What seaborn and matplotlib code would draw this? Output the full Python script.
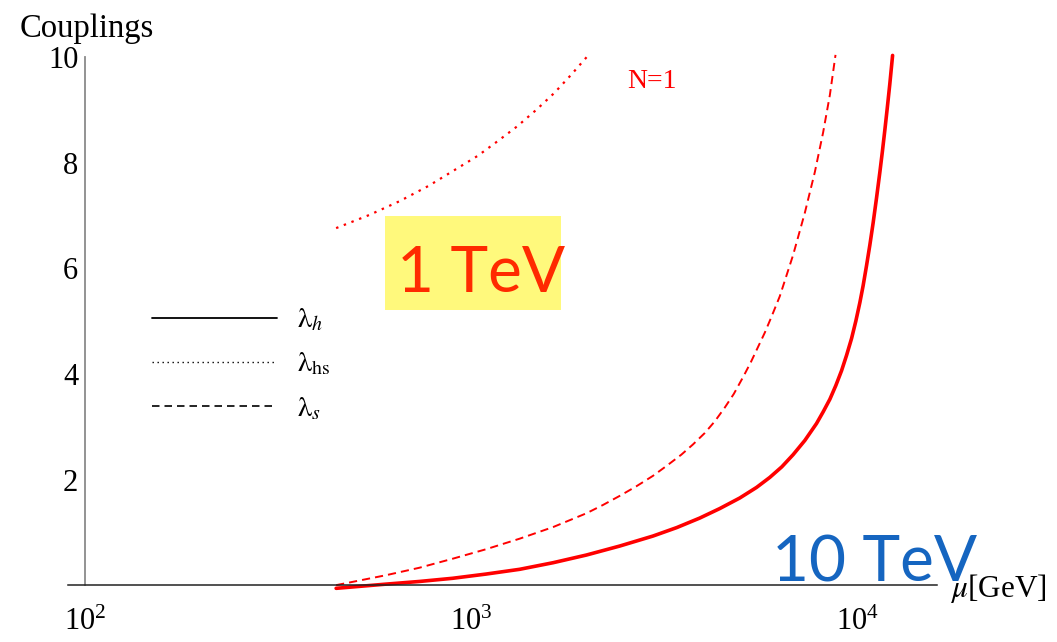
import numpy as np
import matplotlib
matplotlib.use("Agg")
import matplotlib.pyplot as plt
import seaborn as sns
from matplotlib.lines import Line2D
from matplotlib.patches import Rectangle
from matplotlib.ticker import LogLocator, FixedLocator

# running couplings vs scale mu [GeV], N=1
mu_h = [446, 602, 733, 893, 1090, 1332, 1626, 1982, 2417, 2949, 3397, 3896,
        4390, 4946, 5466, 5916, 6355, 6798, 7291, 7816, 8130, 8464, 8770,
        9074, 9348, 9632, 9881, 10121, 10320, 10532, 10742, 10955, 11178,
        11403, 11575, 11748, 11920, 12100, 12302]
lam_h = [-0.06, 0.02, 0.07, 0.13, 0.21, 0.30, 0.425, 0.57, 0.74, 0.93, 1.09, 1.27,
         1.45, 1.65, 1.85, 2.04, 2.24, 2.47, 2.74, 3.06, 3.28, 3.52, 3.78,
         4.06, 4.35, 4.67, 5.00, 5.35, 5.67, 6.05, 6.44, 6.86, 7.33,
         7.82, 8.21, 8.62, 9.04, 9.49, 10.03]

mu_s = [446, 602, 733, 893, 1090, 1332, 1626, 1982, 2191, 2418, 2668, 2949,
        3200, 3491, 3737, 4015, 4261, 4522, 4773, 5046, 5283, 5516, 5742,
        5975, 6280, 6798, 7291, 7738, 8130, 8464, 8754]
lam_s = [0.0, 0.19, 0.33, 0.50, 0.68, 0.88, 1.10, 1.36, 1.52, 1.69, 1.87, 2.07,
         2.26, 2.47, 2.66, 2.88, 3.10, 3.36, 3.62, 3.94, 4.22, 4.51, 4.78,
         5.08, 5.47, 6.25, 7.05, 7.82, 8.57, 9.28, 10.04]

mu_hs = [446, 544, 651, 774, 913, 1038, 1170, 1314, 1471, 1638, 1809, 1998]
lam_hs = [6.76, 7.01, 7.27, 7.56, 7.88, 8.13, 8.41, 8.69, 9.00, 9.32, 9.66, 10.02]

legend_labels = [r"$\mathrm{\lambda}_h$", r"$\mathrm{\lambda}_{\mathrm{hs}}$", r"$\mathrm{\lambda}_s$"]
y_major = [2, 4, 6, 8, 10]
y_minor = [v / 2 for v in range(1, 20) if v % 4 != 0]

sns.set_style("white")
plt.rcParams["font.family"] = ["Liberation Serif", "DejaVu Serif"]
plt.rcParams["mathtext.fontset"] = "stix"
plt.rcParams["text.color"] = "black"
plt.rcParams["xtick.color"] = "black"
plt.rcParams["ytick.color"] = "black"

W, H = 1057, 642
fig = plt.figure(figsize=(W / 100, H / 100), dpi=100)
ax = fig.add_axes([68 / W, 1 - 601 / H, 869 / W, 544 / H])

red = "#ff0000"
sns.lineplot(x=mu_h, y=lam_h, ax=ax, color=red, lw=2.6, clip_on=False)
sns.lineplot(x=mu_s, y=lam_s, ax=ax, color=red, lw=1.4,
             linestyle=(0, (4.2, 2.6)), clip_on=False)
sns.lineplot(x=mu_hs, y=lam_hs, ax=ax, color=red, lw=1.6,
             linestyle=(0, (1.1, 2.6)), clip_on=False)

ax.set_xscale("log")
ax.set_xlim(90.2, 16030)
ax.set_ylim(-0.3, 10.0)
ax.set_xlabel("")
ax.set_ylabel("")

# Mathematica-style crossing axes
for side in ["top", "right"]:
    ax.spines[side].set_visible(False)
ax.spines["left"].set_position(("data", 100))
ax.spines["left"].set_bounds(0, 10)
ax.spines["left"].set_color("#8a8a8a")
ax.spines["left"].set_linewidth(1.3)
ax.spines["bottom"].set_position(("data", 0))
ax.spines["bottom"].set_color("#222222")
ax.spines["bottom"].set_linewidth(1.1)

ax.xaxis.set_major_locator(LogLocator(base=10, numticks=10))
ax.xaxis.set_minor_locator(LogLocator(base=10, subs=np.arange(2, 10), numticks=30))
ax.yaxis.set_major_locator(FixedLocator(y_major))
ax.yaxis.set_minor_locator(FixedLocator(y_minor))

ax.tick_params(axis="x", which="major", direction="out", length=12, width=2.6,
               color="black", labelsize=22, pad=4)
ax.tick_params(axis="x", which="minor", direction="out", length=7, width=1,
               color="#777777")
ax.tick_params(axis="y", which="major", direction="in", length=6, width=1,
               color="black", labelsize=22, pad=5)
ax.tick_params(axis="y", which="minor", direction="in", length=4, width=0.8,
               color="#444444")

handles = [
    Line2D([], [], color="black", lw=1.3),
    Line2D([], [], color="black", lw=1.0, linestyle=(0, (1, 2.6))),
    Line2D([], [], color="black", lw=1.2, linestyle=(0, (4.5, 3))),
]
ax.legend(handles, legend_labels, loc="upper left",
          bbox_to_anchor=(152 / W, 1 - 307 / H), bbox_transform=fig.transFigure,
          frameon=False, fontsize=20.5, handlelength=4.4, handletextpad=0.7,
          labelspacing=0.62, borderpad=0, borderaxespad=0)

fig.text(20 / W, 1 - 37 / H, "Couplings", fontsize=23.5, ha="left", va="baseline")
fig.text(950 / W, 1 - 597 / H, r"$\mu$[GeV]", fontsize=22.5, ha="left", va="baseline")
fig.text(627 / W, 1 - 88 / H, "N=1", fontsize=20, color=red, ha="left", va="baseline")

fig.patches.append(Rectangle((385 / W, 1 - 310 / H), 176 / W, 94 / H,
                             transform=fig.transFigure, facecolor="#fff97c",
                             edgecolor="none", zorder=0))
fig.text(397 / W, 1 - 292 / H, "1 TeV", family="Lato", fontsize=46,
         color="#ff2a00", ha="left", va="baseline")
fig.text(772 / W, 1 - 582 / H, "10 TeV", family="Lato", fontsize=46,
         color="#1565c0", ha="left", va="baseline")

fig.savefig("out.png", dpi=100)
